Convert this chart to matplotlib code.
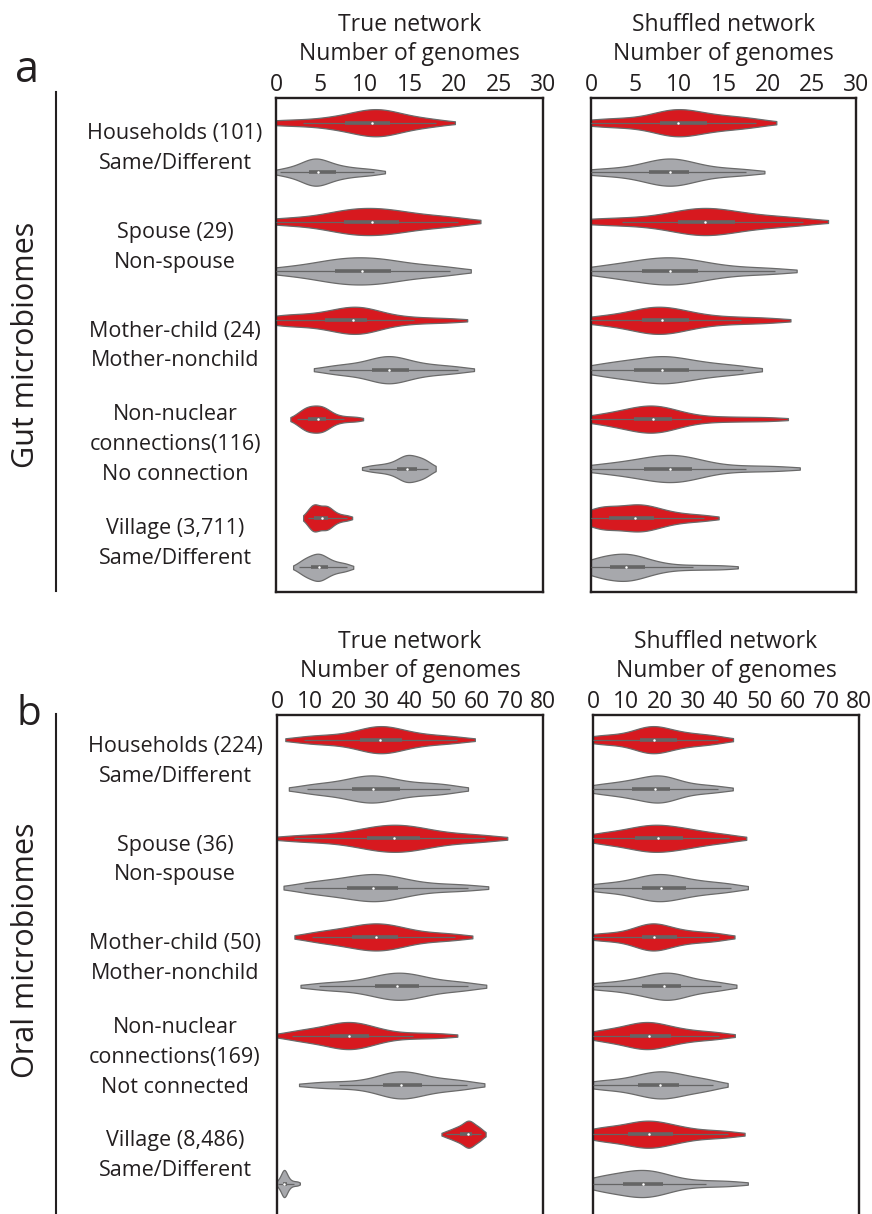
import numpy as np
import matplotlib as mpl
mpl.use("agg")
from matplotlib import pyplot as plt
from matplotlib import cbook, mlab
from matplotlib.transforms import blended_transform_factory

plt.rcParams["font.family"] = ["Open Sans", "DejaVu Sans"]

# Shared genomes per pair. Each panel has 10 groups, ordered top to bottom:
# related pairs (red) followed by their comparison pairs (gray)
gutTrue = [
    [0, 3, 5.5, 7.2, 8, 9.2, 10.2, 10.6, 10.9, 11.5, 12, 12.6, 13.3, 14.5, 16, 18],
    [0.5, 1.8, 2.8, 3.4, 3.8, 4.1, 4.4, 4.6, 4.9, 5.3, 5.8, 6.5, 7.3, 8.2, 9.5, 11],
    [0, 3, 5.5, 7, 7.8, 8.6, 9.3, 10.3, 11.2, 12, 12.8, 13.5, 15, 16.5, 18.5, 20.5],
    [0, 2.8, 4.5, 5.8, 6.9, 7.5, 8.4, 9.3, 10.1, 11, 12, 12.6, 13.8, 15.5, 17.5, 19.5],
    [0, 1, 2.5, 4.5, 5.9, 6.8, 7.7, 8.4, 9, 9.4, 9.8, 10, 11, 13, 15.5, 19.2],
    [6, 7.5, 8.8, 10.2, 11, 11.7, 12.2, 12.5, 12.9, 13.4, 14, 14.6, 15.8, 17, 18.6, 20.5],
    [2.4, 2.9, 3.3, 3.5, 3.7, 3.9, 4.3, 4.6, 4.9, 5.1, 5.3, 5.5, 5.9, 6.5, 7.6, 9.0],
    [10.5, 11.6, 12.5, 13.2, 13.8, 14.2, 14.5, 14.6, 14.8, 15.1, 15.4, 15.8, 16.1, 16.5, 16.8, 17.1],
    [3.6, 3.9, 4.1, 4.2, 4.3, 4.5, 4.7, 5.0, 5.4, 5.6, 5.7, 5.8, 6.1, 6.5, 7.1, 8.0],
    [2.6, 3.1, 3.4, 3.7, 4.0, 4.3, 4.6, 4.7, 4.9, 5.1, 5.4, 5.7, 6.1, 6.6, 7.3, 8.0],
]
gutShuffled = [
    [0, 2.5, 4.5, 6.8, 8.1, 8.8, 9.4, 9.7, 10.1, 10.8, 11.8, 12.8, 14, 15.5, 17, 18.7],
    [0, 2.5, 4.5, 6, 6.8, 7.5, 8.2, 8.7, 9.1, 9.6, 10.3, 10.9, 11.8, 13.3, 15.3, 17.6],
    [0, 3.5, 6.5, 9, 10.2, 11.2, 12, 12.6, 13.2, 14, 15, 15.9, 17.5, 19.3, 21.5, 24],
    [0, 2.2, 3.8, 5.2, 6, 7, 8, 8.6, 9.2, 10, 11, 11.8, 13, 14.8, 17.5, 20.8],
    [0, 2, 3.8, 5.3, 6, 6.7, 7.3, 7.8, 8.2, 8.9, 9.8, 10.8, 12, 14.3, 17, 20.2],
    [0, 1.8, 3.2, 4.4, 5.0, 6.5, 7.4, 7.8, 8.2, 9, 10, 10.8, 12, 13.3, 15.2, 17.2],
    [0, 1.8, 3.2, 4.3, 5, 5.8, 6.5, 6.8, 7.2, 7.6, 8.3, 8.9, 10, 12.5, 16, 20],
    [0, 2.2, 4, 5.3, 6.2, 7.2, 8.1, 8.7, 9.1, 9.8, 10.5, 11.2, 12, 14, 17.5, 21.2],
    [0, 0.5, 1, 1.7, 2.2, 3.2, 4.2, 4.8, 5.2, 5.6, 6.2, 7, 7.6, 8.8, 10.5, 12.8],
    [0, 0.3, 0.8, 1.6, 2.3, 3, 3.6, 3.9, 4.1, 4.6, 5.2, 5.9, 6.8, 8.5, 11.5, 14.8],
]
oralTrue = [
    [8, 13, 18, 23, 25.5, 28, 30, 30.8, 31.4, 32.5, 34.5, 37, 39.5, 43.5, 48.5, 54],
    [9, 13, 17, 21.5, 23, 25.5, 27.5, 28.5, 29.5, 31, 33.5, 36, 39.5, 44, 48, 52],
    [5, 13, 20, 25.5, 27.5, 30, 32.5, 34.2, 36, 38, 40, 42.5, 44.5, 49.5, 56, 62.5],
    [8, 11.5, 15.5, 19.5, 21.5, 24.5, 27, 28.5, 29.5, 31, 33.5, 36, 38, 43, 50, 57.5],
    [10.5, 14, 18, 21.5, 23, 25.5, 27.8, 29, 30.4, 32, 34, 36, 38, 42, 47.5, 53.5],
    [12.5, 18, 23.5, 28, 30, 32.5, 34.5, 35.6, 36.8, 38.5, 40.5, 42.3, 44, 48.5, 53, 57.5],
    [4.5, 8, 11, 14.8, 16.5, 18.5, 20.3, 21.2, 22, 23.5, 25.5, 27.2, 29, 33.5, 41, 49],
    [12, 18.5, 25, 30.5, 32.5, 34.5, 36.2, 37, 37.6, 39, 41, 43, 45.5, 49.5, 53.5, 57],
    [50.8, 52.5, 53.6, 54.4, 55.2, 56, 56.6, 57.1, 57.5, 57.8, 58.1, 58.4, 59.2, 60, 60.8, 61.4],
    [0.2, 0.9, 1.3, 1.6, 1.8, 2.0, 2.1, 2.2, 2.3, 2.5, 2.7, 3.0, 3.4, 4, 5, 6.2],
]
oralShuffled = [
    [0, 4, 8, 12.5, 14.5, 16, 17.2, 18, 18.8, 20, 22, 24.5, 27, 30, 34, 37.5],
    [0, 3.5, 7.5, 10.5, 12, 14.5, 17, 18.2, 19.2, 20.2, 21.5, 22.8, 24.5, 28, 32.5, 37.5],
    [0, 4, 8, 11.5, 13, 15.5, 17.5, 18.8, 20, 22, 24.5, 26.7, 28.7, 31.5, 36, 41],
    [0, 5, 9.5, 13.5, 15, 17, 19, 20, 21, 22.5, 24.5, 27.5, 29.5, 33, 37.5, 41.5],
    [0, 5, 9.5, 13.5, 15, 16.5, 17.5, 18, 18.8, 20, 22, 24.5, 27, 30.5, 34.5, 38],
    [0, 5.5, 10, 13.5, 15, 17.5, 20, 21, 22, 23, 24.5, 26, 27.6, 31, 35, 38.5],
    [0, 3.5, 7, 10, 11.5, 13.5, 15.5, 16.2, 17.2, 18.5, 20.5, 23, 25, 28.5, 33, 38],
    [0, 4.5, 8.5, 12.5, 14, 16, 18.3, 19.5, 20.5, 21.8, 23.5, 25.5, 27, 30, 33, 36],
    [0, 2, 5, 9, 11, 13.5, 15.5, 16.3, 17.1, 18.5, 21, 23.5, 25.5, 29, 35, 40.5],
    [0, 2, 4.5, 7.5, 9.5, 11.5, 13.2, 14.4, 15.6, 17, 19, 20.6, 22.5, 27, 34, 41.5],
]

gutLabels = ["Households (101)\nSame/Different", "Spouse (29)\nNon-spouse",
             "Mother-child (24)\nMother-nonchild",
             "Non-nuclear\nconnections(116)\nNo connection",
             "Village (3,711)\nSame/Different"]
oralLabels = ["Households (224)\nSame/Different", "Spouse (36)\nNon-spouse",
              "Mother-child (50)\nMother-nonchild",
              "Non-nuclear\nconnections(169)\nNot connected",
              "Village (8,486)\nSame/Different"]
gutTicks = [0, 5, 10, 15, 20, 25, 30]
oralTicks = [0, 10, 20, 30, 40, 50, 60, 70, 80]

red = "#d7191f"
gray = "#a7a8ac"
edgeColor = "#6a6a6a"
boxColor = "#656565"
inkColor = "#231f20"

W, H = 872, 1214
fig = plt.figure(figsize=(W / 100, H / 100), dpi=100)


def pxBox(left, top, right, bottom):
    """Axes rectangle from pixel edges (origin top-left)."""
    return [left / W, 1 - bottom / H, (right - left) / W, (bottom - top) / H]


def kdeStats(values, bwFactor=0.45, cut=1.0, points=200):
    """Gaussian KDE evaluated a little past the data range, like seaborn's cut."""
    values = np.asarray(values, dtype=float)
    kde = mlab.GaussianKDE(values, bwFactor)
    bw = np.sqrt(kde.covariance[0, 0])
    coords = np.linspace(values.min() - cut * bw, values.max() + cut * bw, points)
    return {"coords": coords, "vals": kde.evaluate(coords), "mean": values.mean(),
            "median": np.median(values), "min": values.min(), "max": values.max()}


def drawPanel(ax, groups, ticks, title, ybottom):
    positions = np.arange(len(groups))
    parts = ax.violin([kdeStats(g) for g in groups], positions=positions,
                      orientation="horizontal", widths=0.55, showextrema=False)
    for i, body in enumerate(parts["bodies"]):
        body.set_facecolor(red if i % 2 == 0 else gray)
        body.set_edgecolor(edgeColor)
        body.set_linewidth(0.9)
        body.set_alpha(1)
    for pos, values in zip(positions, groups):
        stats = cbook.boxplot_stats(values)[0]
        ax.hlines(pos, stats["whislo"], stats["whishi"], color=boxColor, lw=0.9,
                  zorder=3, capstyle="butt")
        ax.hlines(pos, stats["q1"], stats["q3"], color=boxColor, lw=2.6,
                  zorder=3, capstyle="butt")
        ax.plot(stats["med"], pos, "o", color="white", ms=1.8, mew=0, zorder=4)

    ax.set_xlim(ticks[0], ticks[-1])
    ax.set_ylim(ybottom, -0.5)
    ax.set_yticks([])
    ax.set_xticks(ticks)
    ax.tick_params(axis="x", top=True, labeltop=True, bottom=False, labelbottom=False,
                   length=0, pad=0.5, labelsize=16.5, labelcolor=inkColor)
    for spine in ax.spines.values():
        spine.set_linewidth(1.7)
        spine.set_color(inkColor)

    ax.annotate("Number of genomes", (0.5, 1), xycoords="axes fraction",
                xytext=(0, 27.4), textcoords="offset points", ha="center",
                va="baseline", fontsize=16.5, color=inkColor)
    ax.annotate(title, (0.5, 1), xycoords="axes fraction",
                xytext=(0, 48.4), textcoords="offset points", ha="center",
                va="baseline", fontsize=16.5, color=inkColor)


def drawLabels(ax, labels, shift):
    trans = blended_transform_factory(fig.transFigure, ax.transData)
    for k, label in enumerate(labels):
        ax.text(175 / W, 2 * k + shift, label, transform=trans, ha="center", va="center",
                fontsize=15.5, linespacing=1.55, color=inkColor)


gutTrueAx = fig.add_axes(pxBox(276, 98, 543, 592))
gutShuffledAx = fig.add_axes(pxBox(591, 98, 856, 592))
oralTrueAx = fig.add_axes(pxBox(277, 715, 543, 1220))
oralShuffledAx = fig.add_axes(pxBox(593, 715, 859, 1220))

drawPanel(gutTrueAx, gutTrue, gutTicks, "True network", 9.5)
drawPanel(gutShuffledAx, gutShuffled, gutTicks, "Shuffled network", 9.5)
drawPanel(oralTrueAx, oralTrue, oralTicks, "True network", 9.74)
drawPanel(oralShuffledAx, oralShuffled, oralTicks, "Shuffled network", 9.74)

drawLabels(gutTrueAx, gutLabels, 0.52)
drawLabels(oralTrueAx, oralLabels, 0.44)

# brackets, group names and panel letters on the left
fig.add_artist(plt.Line2D([56 / W, 56 / W], [1 - 92 / H, 1 - 591 / H], color=inkColor, lw=1.5))
fig.add_artist(plt.Line2D([56 / W, 56 / W], [1 - 714 / H, 1 - 1216 / H], color=inkColor, lw=1.5))
fig.text(26 / W, 1 - 345 / H, "Gut microbiomes", rotation=90, ha="center", va="center",
         fontsize=22, color=inkColor)
fig.text(26 / W, 1 - 950 / H, "Oral microbiomes", rotation=90, ha="center", va="center",
         fontsize=22, color=inkColor)
fig.text(15 / W, 1 - 82 / H, "a", ha="left", va="baseline", fontsize=31, color=inkColor)
fig.text(16 / W, 1 - 725 / H, "b", ha="left", va="baseline", fontsize=29, color=inkColor)

fig.savefig("out.png", dpi=100)
plt.close(fig)
